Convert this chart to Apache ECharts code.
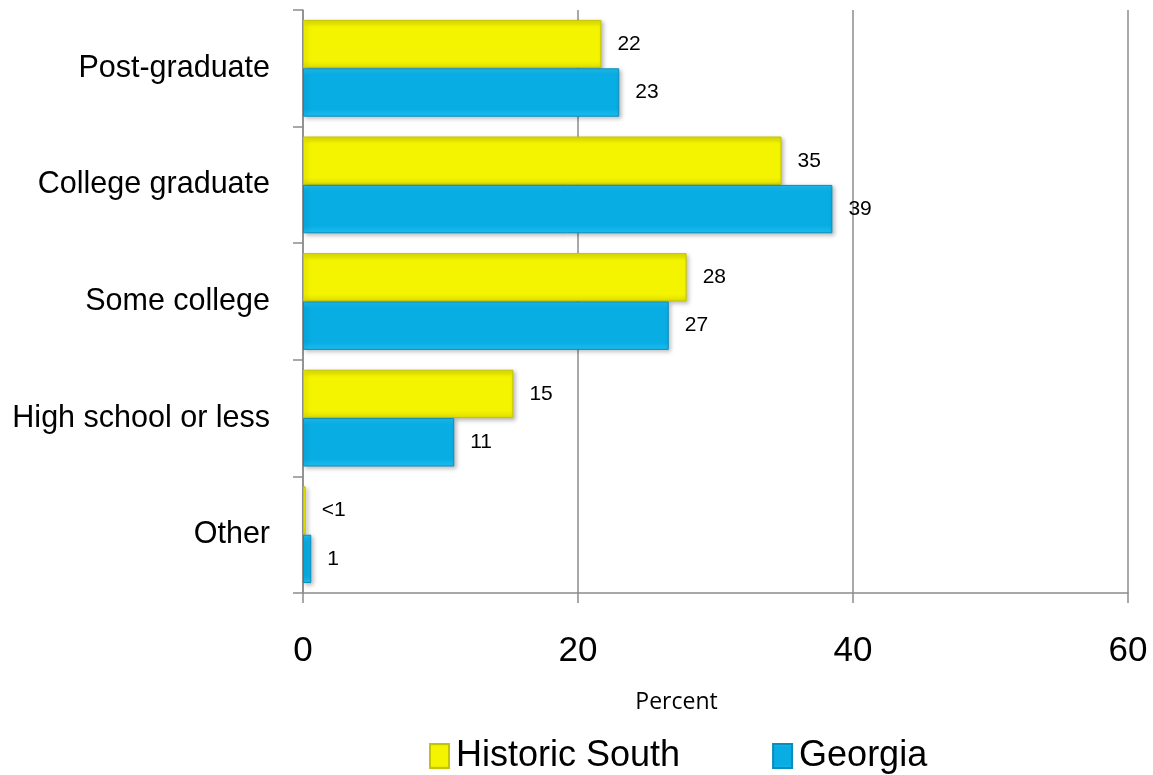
<!DOCTYPE html>
<html><head><meta charset="utf-8">
<script src="https://cdn.jsdelivr.net/npm/echarts@6/dist/echarts.min.js"></script>
<style>html,body{margin:0;padding:0;background:#fff}#c{width:1153px;height:775px}</style>
</head><body><div id="c"></div>
<script>
const categories = ['Post-graduate','College graduate','Some college','High school or less','Other'];
const seriesNames = ['Historic South','Georgia'];
const historicSouth = [21.7, 34.8, 27.9, 15.3, 0.2];
const georgia = [23.0, 38.5, 26.6, 11.0, 0.6];
const historicSouthLabels = ['22','35','28','15','<1'];
const georgiaLabels = ['23','39','27','11','1'];
const xTicks = [0, 20, 40, 60];

const sans = '"Liberation Sans", Arial, sans-serif';
const chart = echarts.init(document.getElementById('c'), null, {renderer:'canvas'});
function grad(c1, c2){
  return new echarts.graphic.LinearGradient(0,0,0,1,[{offset:0,color:c1},{offset:0.15,color:c2},{offset:0.85,color:c2},{offset:1,color:c1}]);
}
chart.setOption({
  animation:false,
  backgroundColor:'#fff',
  grid:{left:303, right:25, top:10, bottom:182, containLabel:false, outerBoundsMode:'none'},
  xAxis:{
    type:'value', min:xTicks[0], max:xTicks[xTicks.length-1], interval:20,
    name:'Percent', nameLocation:'middle', nameGap:98,
    nameTextStyle:{fontFamily:'"Open Sans", sans-serif', fontSize:23, color:'#000', padding:[0,78,0,0]},
    axisLine:{show:true, lineStyle:{color:'#8c8c8c', width:1.5}},
    axisTick:{show:true, inside:false, length:10, lineStyle:{color:'#8c8c8c', width:1.5}},
    axisLabel:{fontFamily:sans, fontSize:35, color:'#000', margin:41},
    splitLine:{show:true, lineStyle:{color:'#8c8c8c', width:1.5}}
  },
  yAxis:{
    type:'category', data:categories, inverse:true,
    axisLine:{show:true, lineStyle:{color:'#8c8c8c', width:1.5}},
    axisTick:{show:true, length:10, lineStyle:{color:'#8c8c8c', width:1.5}},
    axisLabel:{fontFamily:sans, fontSize:30.5, color:'#000', margin:33}
  },
  legend:{
    top:733, left:424, itemGap:92, itemWidth:19, itemHeight:24,
    textStyle:{fontFamily:sans, fontSize:36, color:'#000', padding:[0,0,0,2]},
    data:[{name:seriesNames[0], icon:'rect'},{name:seriesNames[1], icon:'rect'}]
  },
  series:[
    {name:seriesNames[0], type:'bar', data:historicSouth, barGap:'0%', barCategoryGap:'17%',
     itemStyle:{color:grad('#dede00','#f4f400'), borderColor:'#c4c400', borderWidth:1, shadowColor:'rgba(0,0,0,0.25)', shadowBlur:4, shadowOffsetX:2, shadowOffsetY:2},
     label:{show:true, position:'right', distance:16, fontFamily:sans, fontSize:21, color:'#000',
       formatter:p=>historicSouthLabels[p.dataIndex]}},
    {name:seriesNames[1], type:'bar', data:georgia, barGap:'0%', barCategoryGap:'17%',
     itemStyle:{color:grad('#1ec0f2','#08ade4'), borderColor:'#0a8cbc', borderWidth:1, shadowColor:'rgba(0,0,0,0.25)', shadowBlur:4, shadowOffsetX:2, shadowOffsetY:2},
     label:{show:true, position:'right', distance:16, fontFamily:sans, fontSize:21, color:'#000',
       formatter:p=>georgiaLabels[p.dataIndex]}}
  ]
});
</script></body></html>
